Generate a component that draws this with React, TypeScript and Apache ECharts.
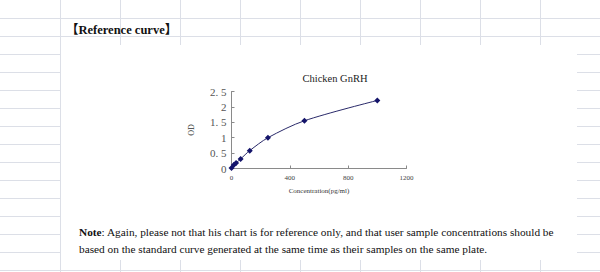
import React, { useEffect, useRef } from "react";
import * as echarts from "echarts";

const concentrations = [0, 15.6, 31.25, 62.5, 125, 250, 500, 1000];
const odValues = [0.02, 0.11, 0.18, 0.31, 0.58, 1.0, 1.55, 2.21];
const chartTitle = "Chicken GnRH";
const xAxisName = "Concentration(pg/ml)";
const yAxisName = "OD";
const heading = "【Reference curve】";
const noteLine1 = "Again, please not that his chart is for reference only, and that user sample concentrations should be";
const noteLine2 = "based on the standard curve generated at the same time as their samples on the same plate.";

const W = 600;
const H = 272;
const GRID_COLOR = "#dcdfe7";
const SERIF = "Liberation Serif, serif";

function buildSheetLines() {
  const els: any[] = [];
  for (let x = 60; x < W; x += 60) {
    els.push({
      type: "line",
      z: -2,
      shape: { x1: x + 0.5, y1: 0, x2: x + 0.5, y2: H },
      style: { stroke: GRID_COLOR, lineWidth: 1 },
      silent: true,
    });
  }
  for (let y = 18; y < H + 1; y += 18) {
    els.push({
      type: "line",
      z: -2,
      shape: { x1: 0, y1: y + 0.5, x2: W, y2: y + 0.5 },
      style: { stroke: GRID_COLOR, lineWidth: 1 },
      silent: true,
    });
  }
  return els;
}

export default function App() {
  const ref = useRef<HTMLDivElement>(null);
  useEffect(() => {
    document.body.style.margin = "0";
    const chart = echarts.init(ref.current!, undefined, { renderer: "svg" });
    const data = concentrations.map((c, i) => [c, odValues[i]]);
    chart.setOption({
      animation: false,
      backgroundColor: "#ffffff",
      title: {
        text: chartTitle,
        left: 330,
        top: 68,
        textAlign: "center",
        textStyle: { fontFamily: SERIF, fontSize: 10.5, fontWeight: "normal", color: "#222" },
      },
      grid: { left: 231.5, top: 91.5, width: 175, height: 77 },
      xAxis: {
        type: "value",
        min: 0,
        max: 1200,
        interval: 400,
        name: xAxisName,
        nameLocation: "middle",
        nameGap: 19,
        nameTextStyle: { fontFamily: SERIF, fontSize: 7, color: "#333" },
        axisLine: { show: true, lineStyle: { color: "#8a8a8a", width: 1 } },
        axisTick: { show: true, inside: true, length: 3, lineStyle: { color: "#8a8a8a" } },
        axisLabel: {
          fontFamily: SERIF,
          fontSize: 7,
          color: "#444",
          margin: 6,
          formatter: (v: number) => String(v),
        },
        splitLine: { show: false },
      },
      yAxis: {
        type: "value",
        min: 0,
        max: 2.5,
        interval: 0.5,
        name: yAxisName,
        nameLocation: "middle",
        nameRotate: 90,
        nameGap: 36,
        nameTextStyle: { fontFamily: SERIF, fontSize: 8, color: "#333" },
        axisLine: { show: true, lineStyle: { color: "#8a8a8a", width: 1 } },
        axisTick: { show: true, inside: true, length: 3, lineStyle: { color: "#8a8a8a" } },
        axisLabel: {
          fontFamily: SERIF,
          fontSize: 11,
          color: "#555",
          margin: 5,
          formatter: (v: number) => String(v).replace(".", ". "),
        },
        splitLine: { show: false },
      },
      series: [
        {
          type: "line",
          data,
          smooth: 0.3,
          symbol: "diamond",
          symbolSize: 6,
          itemStyle: { color: "#14146a" },
          lineStyle: { color: "#2a2a6a", width: 1 },
        },
      ],
      graphic: [
        ...buildSheetLines(),
        {
          type: "rect",
          z: -1,
          shape: { x: 61, y: 45, width: 516, height: 215 },
          style: { fill: "#ffffff" },
          silent: true,
        },
        {
          type: "text",
          x: 66,
          y: 29.5,
          style: {
            text: heading,
            fontFamily: "Liberation Serif, Noto Sans CJK SC, serif",
            fontSize: 12.5,
            fontWeight: "bold",
            fill: "#111",
            verticalAlign: "middle",
          },
        },
        {
          type: "text",
          x: 79,
          y: 231.5,
          style: {
            text: "{b|Note}: " + noteLine1,
            rich: {
              b: { fontFamily: SERIF, fontSize: 11.3, fontWeight: "bold", fill: "#111" },
            },
            fontFamily: SERIF,
            fontSize: 11.3,
            fill: "#111",
            verticalAlign: "middle",
          },
        },
        {
          type: "text",
          x: 79,
          y: 248.5,
          style: {
            text: noteLine2,
            fontFamily: SERIF,
            fontSize: 11.3,
            fill: "#111",
            verticalAlign: "middle",
          },
        },
      ],
    });
    return () => chart.dispose();
  }, []);
  return <div ref={ref} style={{ width: W, height: H }} />;
}
